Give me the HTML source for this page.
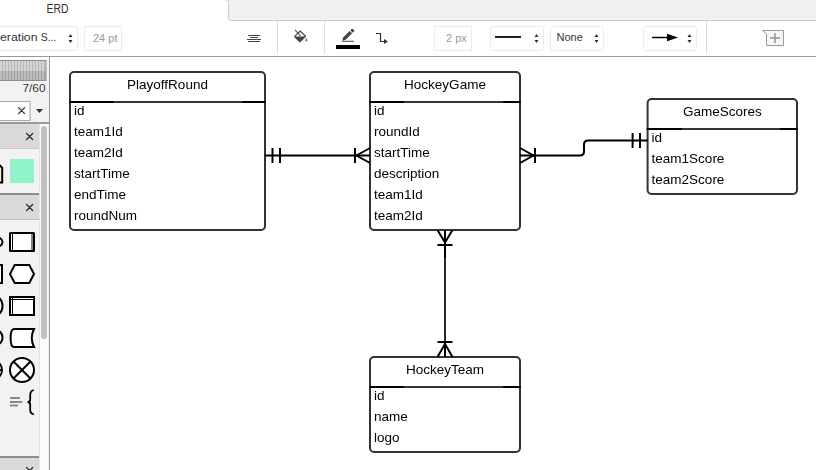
<!DOCTYPE html>
<html><head><meta charset="utf-8">
<style>
html,body{margin:0;padding:0;width:816px;height:470px;overflow:hidden;background:#fff;}
svg{display:block;position:absolute;left:0;top:0;}
text{font-family:"Liberation Sans",sans-serif;}
</style></head>
<body>
<svg width="816" height="470" viewBox="0 0 816 470">
<!-- ===== top tab row ===== -->
<rect x="0" y="0" width="816" height="57" fill="#fff"/>
<text x="46.5" y="13" font-size="12" fill="#333" textLength="22" lengthAdjust="spacingAndGlyphs">ERD</text>
<path d="M228.5 -1 V18 Q228.5 20.5 231 20.5 H817 V-1 Z" fill="#f1f1f1" stroke="#c9c9c9" stroke-width="1"/>
<path d="M225.5 0.5 Q228 0.5 228.5 2" fill="none" stroke="#dcdcdc" stroke-width="1"/>

<!-- ===== toolbar ===== -->
<line x1="0" y1="56.5" x2="816" y2="56.5" stroke="#9a9a9a" stroke-width="1"/>
<!-- font select -->
<rect x="-5.5" y="26.5" width="83" height="24" rx="2" fill="#fff" stroke="#ececec"/>
<text x="0" y="41" font-size="11" fill="#333" textLength="37.5" lengthAdjust="spacingAndGlyphs">eration</text><text x="40.8" y="41" font-size="11" fill="#333" textLength="15.5" lengthAdjust="spacingAndGlyphs">S...</text>
<path d="M68.5 37 L70.5 34 L72.5 37 Z M68.5 40 L70.5 43 L72.5 40 Z" fill="#333"/>
<!-- 24 pt -->
<rect x="84.5" y="26.5" width="37" height="24" fill="#fff" stroke="#ececec"/>
<text x="93" y="42" font-size="11" fill="#999">24 pt</text>
<!-- align icon -->
<g stroke="#444" stroke-width="1">
<line x1="248" y1="35.5" x2="260" y2="35.5"/>
<line x1="250" y1="37.5" x2="258" y2="37.5"/>
<line x1="247" y1="39.5" x2="261" y2="39.5"/>
<line x1="248" y1="41.5" x2="260" y2="41.5"/>
</g>
<line x1="277.5" y1="21" x2="277.5" y2="54" stroke="#dedede"/>
<!-- fill bucket -->
<path d="M294.6 36.4 L300.2 31 L305.6 36.3 L299.8 41.8 Z" fill="none" stroke="#444" stroke-width="1.1"/>
<path d="M294.3 36.4 H306 L299.8 42.2 Z" fill="#444"/>
<line x1="295.2" y1="30.2" x2="300.5" y2="36" stroke="#444" stroke-width="1.1"/>
<path d="M306.3 37.8 Q307.8 40 307.3 41 Q306.3 42 305.3 41 Q304.8 40 306.3 37.8 Z" fill="#808080"/>
<line x1="324.5" y1="21" x2="324.5" y2="54" stroke="#dedede"/>
<!-- pen -->
<g transform="translate(342.2 40.8) rotate(-45)" fill="#444">
<path d="M0 0 L3.2 -1.7 H12.3 V1.7 H3.2 Z"/>
<rect x="13.2" y="-1.7" width="2.6" height="3.4"/>
</g>
<line x1="342" y1="41.3" x2="354" y2="41.3" stroke="#444" stroke-width="1"/>
<rect x="336" y="45" width="24" height="4" fill="#000"/>
<!-- connector icon -->
<path d="M376 33.5 H380.5 V41.5 H385" fill="none" stroke="#333" stroke-width="1.2"/>
<path d="M384 39 L388 41.5 L384 44 Z" fill="#333"/>
<!-- 2 px -->
<rect x="434.5" y="26.5" width="37" height="24" fill="#fff" stroke="#ececec"/>
<text x="446" y="41.5" font-size="11" fill="#999">2 px</text>
<!-- line style select -->
<rect x="490.5" y="26.5" width="53" height="24" rx="2" fill="#fff" stroke="#ececec"/>
<line x1="495" y1="37" x2="521" y2="37" stroke="#222" stroke-width="2"/>
<path d="M534.5 37 L536.5 34 L538.5 37 Z M534.5 40 L536.5 43 L538.5 40 Z" fill="#333"/>
<!-- None select -->
<rect x="550.5" y="26.5" width="53" height="24" rx="2" fill="#fff" stroke="#ececec"/>
<text x="556.5" y="41" font-size="11" fill="#333">None</text>
<path d="M594.5 37 L596.5 34 L598.5 37 Z M594.5 40 L596.5 43 L598.5 40 Z" fill="#333"/>
<!-- arrow select -->
<rect x="643.5" y="26.5" width="53" height="24" rx="2" fill="#fff" stroke="#ececec"/>
<line x1="652" y1="37.5" x2="668" y2="37.5" stroke="#000" stroke-width="1.5"/>
<path d="M667 33.8 L678 37.5 L667 41.2 Z" fill="#000"/>
<path d="M687.5 37 L689.5 34 L691.5 37 Z M687.5 40 L689.5 43 L691.5 40 Z" fill="#333"/>
<line x1="706.5" y1="21" x2="706.5" y2="54" stroke="#dedede"/>
<!-- add comment -->
<path d="M766.5 30.5 H783.5 V45.5 H766.5 V34 L762.5 30.5 Z" fill="#f6f6f6" stroke="#9a9a9a"/>
<line x1="770" y1="38" x2="780" y2="38" stroke="#9a9a9a" stroke-width="1.6"/>
<line x1="775" y1="33" x2="775" y2="43" stroke="#9a9a9a" stroke-width="1.6"/>

<!-- ===== sidebar ===== -->
<rect x="0" y="57" width="49" height="413" fill="#f2f2f2"/>
<rect x="0" y="57" width="49" height="3" fill="#f9f9f9"/>
<line x1="49.5" y1="57" x2="49.5" y2="470" stroke="#9a9a9a"/>
<!-- progress bar -->
<defs>
<pattern id="stripes" x="0" y="61" width="3" height="20" patternUnits="userSpaceOnUse">
<rect x="0" y="0" width="3" height="20" fill="#bcbcbc"/>
<rect x="0" y="0" width="3" height="10" fill="#d6d6d6"/>
<rect x="2" y="0" width="1" height="10" fill="#b4b4b4"/>
<rect x="2" y="10" width="1" height="10" fill="#a2a2a2"/>
</pattern>
</defs>
<rect x="-1" y="60.5" width="47" height="20" fill="url(#stripes)" stroke="#8c8c8c"/>
<text x="22.5" y="92" font-size="11" fill="#333" textLength="23" lengthAdjust="spacingAndGlyphs">7/60</text>
<!-- search -->
<rect x="-2" y="101.5" width="32" height="19" fill="#fff" stroke="#a9a9a9"/>
<path d="M18.6 107.6 L24.6 113.6 M24.6 107.6 L18.6 113.6" stroke="#333" stroke-width="1.3" stroke-linecap="round"/>
<path d="M36 109 H43 L39.5 113 Z" fill="#333"/>
<!-- scroll track -->
<rect x="39" y="124" width="10" height="346" fill="#fbfbfb"/>
<rect x="39" y="124" width="1" height="346" fill="#e4e4e4"/>
<rect x="48" y="124" width="1" height="346" fill="#f1f1f1"/>
<rect x="41" y="126" width="6" height="213" rx="3" fill="#c1c1c1"/>
<!-- section 1 -->
<rect x="0" y="122" width="49" height="2" fill="#9a9a9a"/>
<rect x="0" y="124" width="39" height="24" fill="#d9d9d9"/>
<rect x="0" y="148" width="39" height="1" fill="#c8c8c8"/>
<path d="M26.6 133.6 L32.6 139.6 M32.6 133.6 L26.6 139.6" stroke="#333" stroke-width="1.4" stroke-linecap="round"/>
<rect x="10" y="159" width="24" height="24" fill="#8ff5c9"/>
<path d="M-10 165.3 H-0.3 L2.2 167.8 V182.5 H-10 Z" fill="#fbf8b0" stroke="#000" stroke-width="2"/>
<!-- section 2 -->
<rect x="0" y="193" width="39" height="2" fill="#8c8c8c"/>
<rect x="0" y="195" width="39" height="24" fill="#d9d9d9"/>
<rect x="0" y="219" width="39" height="1" fill="#bdbdbd"/>
<path d="M26.6 204.6 L32.6 210.6 M32.6 204.6 L26.6 210.6" stroke="#333" stroke-width="1.4" stroke-linecap="round"/>
<g fill="#fff" stroke="#000" stroke-width="2">
<rect x="10" y="233" width="24" height="18" rx="0.5"/>
<line x1="12.5" y1="233" x2="12.5" y2="251" stroke-width="1"/>
<line x1="32" y1="233" x2="32" y2="251" stroke-width="1"/>
<path d="M10 274 L14.7 265 H29.3 L34 274 L29.3 283 H14.7 Z"/>
<rect x="10" y="297" width="24" height="18"/>
<line x1="10" y1="299.5" x2="34" y2="299.5" stroke-width="1"/>
<line x1="12.5" y1="297" x2="12.5" y2="315" stroke-width="1"/>
<path d="M14 329 H34 Q29.5 338 34 347 H14 C9.5 347 9.5 329 14 329 Z"/>
<circle cx="22" cy="370" r="12"/>
<line x1="13.5" y1="361.5" x2="30.5" y2="378.5"/>
<line x1="30.5" y1="361.5" x2="13.5" y2="378.5"/>
<!-- partial left shapes -->
<ellipse cx="-6" cy="242" rx="8.5" ry="5.5"/>
<rect x="-10" y="265" width="12" height="18"/>
<ellipse cx="-8" cy="306" rx="10.5" ry="11"/>
<ellipse cx="-8" cy="337.5" rx="10.5" ry="9"/>
<circle cx="-8" cy="370" r="10"/>
</g>
<line x1="-2" y1="370" x2="2" y2="370" stroke="#000" stroke-width="2"/>
<path d="M33.8 390 Q30.2 391 30.2 395 V399.5 Q30.2 402 27.5 402 Q30.2 402 30.2 404.5 V410 Q30.2 413.5 33.8 414.5" fill="none" stroke="#000" stroke-width="1.8"/>
<g fill="#8a8a8a">
<rect x="10" y="397" width="10" height="2"/>
<rect x="10" y="401" width="12.3" height="2"/>
<rect x="10" y="404.5" width="8" height="2"/>
</g>
<!-- section 3 -->
<rect x="0" y="456" width="39" height="2" fill="#8c8c8c"/>
<rect x="0" y="458" width="39" height="12" fill="#d9d9d9"/>
<path d="M26.6 467.6 L32.6 473.6 M32.6 467.6 L26.6 473.6" stroke="#333" stroke-width="1.4" stroke-linecap="round"/>

</svg>
<svg width="816" height="470" viewBox="0 0 816 470" style="will-change:transform">
<!-- ===== diagram ===== -->
<g font-size="13.5" fill="#000">
<!-- PlayoffRound -->
<rect x="70" y="72" width="195" height="158" rx="4" fill="#fff" stroke="#333" stroke-width="2"/>
<line x1="70" y1="102" x2="265" y2="102" stroke="#333" stroke-width="2"/>
<line x1="70" y1="102" x2="113" y2="102" stroke="#000" stroke-width="2" stroke-linecap="round"/>
<line x1="243" y1="102" x2="265" y2="102" stroke="#000" stroke-width="2" stroke-linecap="round"/>
<text x="167.5" y="89.3" text-anchor="middle">PlayoffRound</text>
<text x="74" y="114.5">id</text>
<text x="74" y="135.5">team1Id</text>
<text x="74" y="156.5">team2Id</text>
<text x="74" y="177.5">startTime</text>
<text x="74" y="198.5">endTime</text>
<text x="74" y="219.5">roundNum</text>

<!-- HockeyGame -->
<rect x="370" y="72" width="150" height="158" rx="4" fill="#fff" stroke="#333" stroke-width="2"/>
<line x1="370" y1="102" x2="520" y2="102" stroke="#333" stroke-width="2"/>
<line x1="370" y1="102" x2="403" y2="102" stroke="#000" stroke-width="2" stroke-linecap="round"/>
<line x1="504" y1="102" x2="520" y2="102" stroke="#000" stroke-width="2" stroke-linecap="round"/>
<text x="445" y="89.3" text-anchor="middle">HockeyGame</text>
<text x="374" y="114.5">id</text>
<text x="374" y="135.5">roundId</text>
<text x="374" y="156.5">startTime</text>
<text x="374" y="177.5">description</text>
<text x="374" y="198.5">team1Id</text>
<text x="374" y="219.5">team2Id</text>

<!-- GameScores -->
<rect x="647.6" y="99" width="149.4" height="95" rx="4" fill="#fff" stroke="#333" stroke-width="2"/>
<line x1="647.6" y1="129" x2="797" y2="129" stroke="#333" stroke-width="2"/>
<line x1="647.6" y1="129" x2="681" y2="129" stroke="#000" stroke-width="2" stroke-linecap="round"/>
<line x1="781" y1="129" x2="797" y2="129" stroke="#000" stroke-width="2" stroke-linecap="round"/>
<text x="722.3" y="116.3" text-anchor="middle">GameScores</text>
<text x="651.6" y="141.5">id</text>
<text x="651.6" y="162.5">team1Score</text>
<text x="651.6" y="183.5">team2Score</text>

<!-- HockeyTeam -->
<rect x="370" y="357" width="150" height="95" rx="4" fill="#fff" stroke="#333" stroke-width="2"/>
<line x1="370" y1="387" x2="520" y2="387" stroke="#333" stroke-width="2"/>
<line x1="370" y1="387" x2="403" y2="387" stroke="#000" stroke-width="2" stroke-linecap="round"/>
<line x1="504" y1="387" x2="520" y2="387" stroke="#000" stroke-width="2" stroke-linecap="round"/>
<text x="445" y="374.3" text-anchor="middle">HockeyTeam</text>
<text x="374" y="399.5">id</text>
<text x="374" y="420.5">name</text>
<text x="374" y="441.5">logo</text>
</g>

<!-- connectors -->
<g fill="none" stroke="#000" stroke-width="2">
<!-- PlayoffRound - HockeyGame -->
<line x1="265" y1="155.5" x2="370" y2="155.5"/>
<line x1="272.5" y1="148" x2="272.5" y2="163"/>
<line x1="280" y1="148" x2="280" y2="163"/>
<line x1="355" y1="148" x2="355" y2="163"/>
<path d="M370 148 L356.5 155.5 L370 163"/>
<!-- HockeyGame - GameScores -->
<path d="M520 155.5 H580 Q584 155.5 584 151.5 V144.5 Q584 140.5 588 140.5 H647.6"/>
<line x1="535" y1="148" x2="535" y2="163"/>
<path d="M520 148 L533.5 155.5 L520 163"/>
<line x1="632.6" y1="133" x2="632.6" y2="148"/>
<line x1="640" y1="133" x2="640" y2="148"/>
<!-- HockeyGame - HockeyTeam -->
<line x1="445" y1="258" x2="445" y2="342" stroke="#2b2b2b"/>
<line x1="445" y1="230" x2="445" y2="258"/>
<line x1="445" y1="342" x2="445" y2="357"/>
<line x1="437.5" y1="245" x2="452.5" y2="245"/>
<path d="M437.5 230 L445 242.5 L452.5 230"/>
<line x1="437.5" y1="342" x2="452.5" y2="342"/>
<path d="M437.5 357 L445 344 L452.5 357"/>
</g>
</svg>
</body></html>
